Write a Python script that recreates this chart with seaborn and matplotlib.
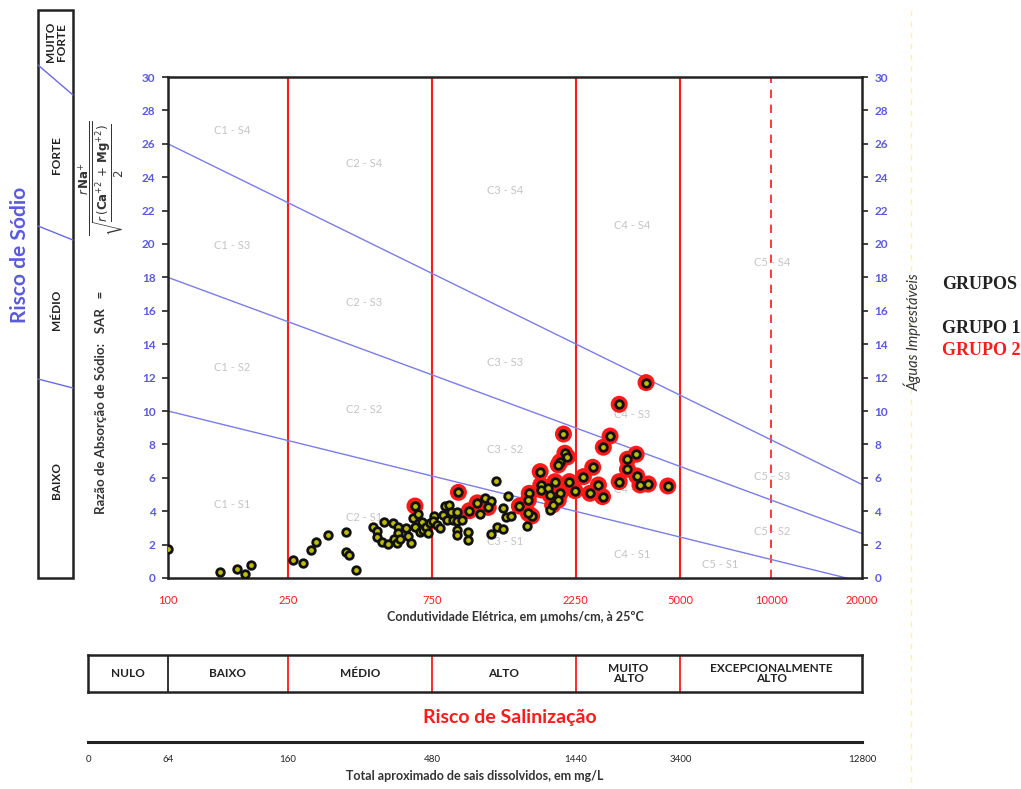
import numpy as np
import pandas as pd
import seaborn as sns
import matplotlib.pyplot as plt
from matplotlib.patches import Rectangle

# --- data (CE in umhos/cm, SAR) ---
g1_ec = [100, 149, 169, 180, 189, 259, 280, 299, 309, 340, 388, 388, 399, 420,
         480, 492, 520, 492, 512, 537, 558, 580, 580, 563, 576, 587, 615, 626,
         638, 651, 659, 676, 693, 685, 703, 717, 729, 739, 762, 759, 782, 798,
         815, 829, 843, 856, 865, 883, 910, 906, 941, 910, 910, 991, 991,
         1224, 1344, 1288, 1321, 1369, 1849, 1545, 1230, 1294, 1175, 1124, 1175, 1081]
g1_sar = [1.75, 0.38, 0.55, 0.24, 0.78, 1.06, 0.90, 1.66, 2.16, 2.60, 2.74, 1.54, 1.40, 0.48,
          3.07, 2.83, 3.35, 2.44, 2.17, 2.04, 3.28, 3.04, 2.68, 2.35, 2.08, 2.32, 2.98, 2.51,
          2.11, 3.57, 3.07, 3.83, 3.35, 2.77, 2.87, 3.07, 2.68, 3.28, 3.71, 3.43, 3.17, 2.98,
          3.79, 4.31, 3.47, 4.37, 3.93, 3.47, 3.97, 3.43, 3.47, 2.87, 2.57, 2.77, 2.28,
          5.83, 4.91, 4.17, 3.67, 3.71, 4.07, 3.11, 3.04, 2.92, 2.63, 4.77, 4.60, 3.83]

g2_ec = [659, 918, 998, 1060, 1153, 2047, 2070, 2110, 1995, 1968, 1714, 1919, 2141,
         2235, 1722, 1730, 1825, 1849, 1995, 1968, 1884, 1577, 1566, 1462, 1606, 1566,
         3846, 3133, 2922, 2775, 3565, 3337, 3337, 2560, 3583, 2384, 3133, 2674, 3672,
         3914, 4540, 2506, 2759]
g2_sar = [4.31, 5.13, 4.03, 4.50, 4.23, 8.62, 7.47, 7.25, 6.96, 6.77, 6.37, 5.77, 5.77,
          5.23, 5.57, 5.27, 5.37, 4.97, 5.07, 4.67, 4.37, 5.07, 4.67, 4.31, 3.71, 3.87,
          11.7, 10.4, 8.5, 7.83, 7.41, 7.11, 6.51, 6.63, 6.11, 6.07, 5.77, 5.57, 5.57,
          5.63, 5.51, 5.07, 4.87]

ec_ticks = [100, 250, 750, 2250, 5000, 10000, 20000]
sar_ticks = list(range(0, 31, 2))
class_limits = [250, 750, 2250, 5000]

# class boundary lines (SAR at CE = 100 and CE = 20000)
line_ec = [100, 20000]
line_s1s2 = [10.0, -0.23]
line_s2s3 = [18.0, 2.66]
line_s3s4 = [26.0, 5.60]

zone_labels = [
    ("C1 - S4", 163, 26.8), ("C2 - S4", 446, 24.85), ("C3 - S4", 1309, 23.2),
    ("C4 - S4", 3451, 21.1), ("C5 - S4", 10070, 18.9),
    ("C1 - S3", 163, 19.9), ("C2 - S3", 446, 16.5), ("C3 - S3", 1309, 12.9),
    ("C4 - S3", 3451, 9.8), ("C5 - S3", 10070, 6.1),
    ("C1 - S2", 163, 12.6), ("C2 - S2", 446, 10.1), ("C3 - S2", 1309, 7.7),
    ("C4 - S2", 3451, 5.3), ("C5 - S2", 10070, 2.8),
    ("C1 - S1", 163, 4.4), ("C2 - S1", 446, 3.6), ("C3 - S1", 1309, 2.2),
    ("C4 - S1", 3451, 1.4), ("C5 - S1", 6760, 0.8),
]

salin_classes = ["NULO", "BAIXO", "MÉDIO", "ALTO", "MUITO\nALTO", "EXCEPCIONALMENTE\nALTO"]
salin_limits = [54.3, 100, 250, 750, 2250, 5000, 20000]
tds_labels = ["0", "64", "160", "480", "1440", "3400", "12800"]

sodio_classes = ["BAIXO", "MÉDIO", "FORTE", "MUITO\nFORTE"]

df = pd.DataFrame({
    "CE": g1_ec + g2_ec,
    "SAR": g1_sar + g2_sar,
    "grupo": ["GRUPO 1"] * len(g1_ec) + ["GRUPO 2"] * len(g2_ec),
})

sns.set_theme(style="white")
plt.rcParams["font.family"] = ["Lato", "DejaVu Sans"]

BLUE = "#5a5ae0"
RED = "#ff1a1a"
GREY = "#c4c4c4"
DARK = "#222222"

fig = plt.figure(figsize=(10.21, 7.89), dpi=100)

# background overlay in pixel units for the side decorations
bg = fig.add_axes([0, 0, 1, 1], zorder=0)
bg.set_xlim(0, 1021)
bg.set_ylim(789, 0)
bg.axis("off")

# left "Risco de Sodio" box
bg.add_patch(Rectangle((38, 10), 35, 568, fill=False, lw=1.8, ec=DARK))
for y0, y1 in [(65, 95), (226, 240), (379, 388)]:
    bg.plot([38, 73], [y0, y1], color="#6a6ae0", lw=1)
for lab, yc in zip(sodio_classes, [480, 310, 155, 42]):
    bg.text(56, yc, lab, rotation=90, ha="center", va="center", fontsize=8.5,
            fontweight="bold", color=DARK, linespacing=0.95)
bg.text(20, 255, "Risco de Sódio", rotation=90, ha="center", va="center",
        fontsize=15, fontweight="bold", color=BLUE)
bg.text(101, 402, "Razão de Absorção de Sódio:   SAR   =", rotation=90,
        ha="center", va="center", fontsize=9.5, fontweight="bold", color="#333333")
bg.text(101, 178,
        r"$\dfrac{r\,\mathbf{Na}^{+}}{\sqrt{\dfrac{r\,(\mathbf{Ca}^{+2}\,+\,\mathbf{Mg}^{+2})}{2}}}$",
        rotation=90, ha="center", va="center", fontsize=8.5, color="#333333")

# right side
bg.plot([911, 911], [10, 789], color="#fff2a8", lw=1, ls=(0, (4, 4)))
bg.text(913, 332, "Águas Imprestáveis", rotation=90, ha="center", va="center",
        fontsize=10.5, style="italic", color="#333333")
bg.text(942, 284, "GRUPOS", ha="left", va="center", fontsize=13,
        fontweight="bold", family="Liberation Serif", color=DARK)
bg.text(942, 328, "GRUPO 1", ha="left", va="center", fontsize=13,
        fontweight="bold", family="Liberation Serif", color=DARK)
bg.text(942, 350, "GRUPO 2", ha="left", va="center", fontsize=13,
        fontweight="bold", family="Liberation Serif", color=RED)

bg.text(510, 718, "Risco de Salinização", ha="center", va="center",
        fontsize=14, fontweight="bold", color=RED)

# --- main diagram ---
ax = fig.add_axes([168 / 1021, 1 - 578 / 789, 694 / 1021, 501 / 789], zorder=2)
ax.set_xscale("log")
ax.set_xlim(100, 20000)
ax.set_ylim(0, 30)

for lim in class_limits:
    ax.axvline(lim, color=RED, lw=1.5, zorder=1)
ax.axvline(10000, color=RED, lw=1.2, ls=(0, (5, 4)), zorder=1)

for sar in (line_s1s2, line_s2s3, line_s3s4):
    ax.plot(line_ec, sar, color="#7c7ce6", lw=1, zorder=1)

for lab, x, y in zone_labels:
    ax.text(x, y, lab, ha="center", va="center", fontsize=8, color=GREY, zorder=1)

g2 = df[df["grupo"] == "GRUPO 2"]
sns.scatterplot(data=g2, x="CE", y="SAR", ax=ax, s=150, color=RED,
                edgecolor="none", linewidth=0, zorder=3, legend=False)
sns.scatterplot(data=df, x="CE", y="SAR", ax=ax, s=30, color="#bdbd00",
                edgecolor="#111111", linewidth=2.0, zorder=4, legend=False)

ax.set_xticks(ec_ticks)
ax.set_xticklabels([str(t) for t in ec_ticks])
ax.minorticks_off()
ax.set_yticks(sar_ticks)
ax.tick_params(axis="x", length=0, pad=12, labelsize=8, labelcolor=RED)
ax.tick_params(axis="y", left=True, right=True, labelleft=True, labelright=True,
               direction="out", length=4, width=1.2, color=DARK, pad=5,
               labelsize=8.5, labelcolor=BLUE)
for lab in ax.get_yticklabels():
    lab.set_fontweight("bold")
for sp in ax.spines.values():
    sp.set_color(DARK)
    sp.set_linewidth(1.8)
ax.set_xlabel("Condutividade Elétrica, em µmohs/cm, à 25ºC", fontsize=9,
              fontweight="bold", color="#333333", labelpad=4)
ax.set_ylabel("")

# --- salinity class box ---
bx = fig.add_axes([88 / 1021, 1 - 692 / 789, 774 / 1021, 37 / 789], zorder=2)
bx.set_xscale("log")
bx.set_xlim(salin_limits[0], salin_limits[-1])
bx.set_ylim(0, 1)
for i, lim in enumerate(salin_limits[1:-1]):
    bx.axvline(lim, color=DARK if i == 0 else RED, lw=1.3)
for i, lab in enumerate(salin_classes):
    xc = np.sqrt(salin_limits[i] * salin_limits[i + 1])
    bx.text(xc, 0.5, lab, ha="center", va="center", fontsize=8.5,
            fontweight="bold", color=DARK, linespacing=1.0)
bx.set_xticks([])
bx.set_yticks([])
bx.minorticks_off()
for sp in bx.spines.values():
    sp.set_color(DARK)
    sp.set_linewidth(1.8)

# --- TDS scale ---
tx = fig.add_axes([88 / 1021, 1 - 742 / 789, 774 / 1021, 0.001], zorder=2)
tx.set_xscale("log")
tx.set_xlim(salin_limits[0], salin_limits[-1])
tx.set_xticks(salin_limits)
tx.set_xticklabels(tds_labels)
tx.minorticks_off()
tx.set_yticks([])
for side in ("top", "left", "right"):
    tx.spines[side].set_visible(False)
tx.spines["bottom"].set_color(DARK)
tx.spines["bottom"].set_linewidth(2.2)
tx.tick_params(axis="x", direction="inout", length=6, width=1, color=DARK,
               labelsize=7, pad=6, labelcolor=DARK)
tx.set_xlabel("Total aproximado de sais dissolvidos, em mg/L", fontsize=9,
              fontweight="bold", color="#333333", labelpad=5)
tx.set_facecolor("none")

fig.savefig("out.png", dpi=100)
